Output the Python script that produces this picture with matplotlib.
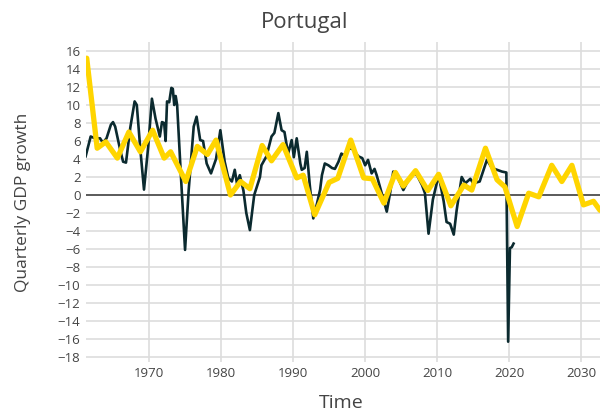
import numpy as np
import matplotlib.pyplot as plt

plt.rcParams['font.family'] = ['Open Sans', 'DejaVu Sans']

# quarterly GDP growth (dark line)
actual_t = [1961.2, 1961.9, 1962.5, 1963.2, 1963.6, 1964.1, 1964.7, 1965.0, 1965.3, 1966.0,
            1966.4, 1966.8, 1967.4, 1968.0, 1968.3, 1968.8, 1969.3, 1969.9, 1970.4, 1970.9,
            1971.5, 1971.8, 1972.1, 1972.3, 1972.5, 1972.8, 1973.1, 1973.3, 1973.5, 1973.7,
            1973.9, 1974.4, 1975.0, 1975.5, 1976.2, 1976.6, 1977.1, 1977.5, 1978.0, 1978.6,
            1979.3, 1979.9, 1980.5, 1981.0, 1981.5, 1981.9, 1982.2, 1982.6, 1983.1, 1983.5,
            1984.0, 1984.6, 1985.0, 1985.4, 1985.6, 1986.3, 1987.0, 1987.4, 1987.95, 1988.4,
            1988.8, 1989.3, 1989.8, 1990.1, 1990.5, 1991.0, 1991.2, 1991.6, 1991.9, 1992.3,
            1992.8, 1993.3, 1993.75, 1994.0, 1994.4, 1994.9, 1995.4, 1995.8, 1996.3, 1996.7,
            1997.1, 1997.7, 1998.3, 1999.05, 1999.6, 2000.0, 2000.4, 2000.9, 2001.3, 2001.6,
            2002.3, 2003.0, 2003.5, 2003.9, 2004.5, 2005.3, 2005.9, 2006.7, 2007.2, 2007.9,
            2008.3, 2008.8, 2009.4, 2010.2, 2010.9, 2011.3, 2011.8, 2012.3, 2012.7, 2013.4,
            2013.9, 2014.6, 2015.0, 2015.9, 2016.9, 2017.6, 2018.3, 2019.0, 2019.6, 2019.85,
            2020.1, 2020.35, 2020.6]
actual_v = [4.3, 6.5, 6.3, 6.3, 5.8, 6.3, 7.8, 8.1, 7.6, 5.0,
            3.7, 3.6, 7.5, 10.4, 10.0, 5.0, 0.6, 5.5, 10.7, 8.5,
            6.5, 8.1, 8.0, 6.0, 10.4, 10.3, 11.9, 11.8, 10.0, 11.0,
            10.0, 2.5, -6.1, 0.5, 7.6, 8.7, 6.1, 6.0, 3.5, 2.4,
            4.0, 7.2, 3.7, 1.9, 1.5, 2.8, 1.3, 2.2, 0.5, -2.0,
            -3.9, 0.0, 1.0, 2.0, 3.3, 4.3, 6.5, 6.9, 9.1, 7.2,
            7.0, 4.6, 6.1, 4.2, 6.3, 3.5, 2.8, 3.0, 4.8, 1.2,
            -2.6, -1.0, 0.6, 2.2, 3.5, 3.3, 3.0, 2.9, 3.7, 4.6,
            4.4, 5.2, 5.1, 4.3, 4.1, 3.3, 3.9, 2.4, 2.9, 2.2,
            0.2, -1.85, 0.4, 2.6, 2.0, 0.55, 1.5, 2.4, 2.2, 1.1,
            0.2, -4.3, -0.5, 2.2, -0.7, -3.0, -3.2, -4.4, -1.7, 2.0,
            1.3, 1.8, 1.3, 1.5, 3.9, 3.0, 2.8, 2.6, 2.5, -16.3,
            -5.9, -5.8, -5.4]

# smoothed / forecast line (yellow)
model_t = [1961.35, 1962.8, 1964.0, 1965.6, 1967.2, 1968.8, 1970.5, 1972.1, 1973.0, 1975.1,
           1976.7, 1978.1, 1979.3, 1981.3, 1982.7, 1984.0, 1985.7, 1987.0, 1988.6, 1990.5,
           1991.4, 1993.0, 1995.0, 1996.2, 1998.0, 1999.8, 2001.0, 2002.6, 2004.2, 2005.3,
           2007.0, 2008.7, 2010.2, 2011.9, 2013.7, 2014.8, 2016.7, 2018.3, 2019.4, 2021.1,
           2022.7, 2024.1, 2025.9, 2027.3, 2028.7, 2030.3, 2031.7, 2032.6]
model_v = [15.2, 5.2, 5.9, 4.1, 7.0, 4.8, 7.2, 4.1, 4.8, 1.5,
           5.4, 4.5, 6.1, 0.0, 1.5, 0.7, 5.5, 3.8, 5.6, 1.9,
           2.2, -2.2, 1.4, 1.85, 6.1, 1.9, 1.8, -0.9, 2.5, 1.0,
           2.7, 0.5, 2.3, -1.2, 1.1, 0.55, 5.2, 1.7, 0.9, -3.5,
           0.2, -0.2, 3.3, 1.5, 3.3, -1.1, -0.7, -1.7]

yticks = list(range(-18, 17, 2))
xticks = [1970, 1980, 1990, 2000, 2010, 2020, 2030]

fig = plt.figure(figsize=(6, 4.17), dpi=100)
ax = fig.add_axes([86/600, 1 - 362.4/417, 514/600, (362.4 - 42)/417])

ax.plot(actual_t, actual_v, color='#0b2a2f', lw=1.9, zorder=3)
ax.plot(model_t, model_v, color='#ffd500', lw=3.8, solid_joinstyle='round',
        solid_capstyle='round', zorder=4)
ax.axhline(0, color='#444444', lw=1.2, zorder=2)

ax.set_xlim(1961.25, 2032.6)
ax.set_ylim(-18.6, 17.0)
ax.set_yticks(yticks)
ax.set_xticks(xticks)
ax.grid(True, color='#dddddd', lw=1.2, zorder=0)
ax.set_axisbelow(True)
for s in ax.spines.values():
    s.set_visible(False)
ax.tick_params(length=0, labelsize=9.5, labelcolor='#444444')
ax.tick_params(axis='x', pad=3)
ax.tick_params(axis='y', pad=4)
ax.set_yticklabels([str(t).replace('-', '\u2212') for t in yticks])

ax.set_ylabel('Quarterly GDP growth', fontsize=12.5, color='#444444')
ax.yaxis.set_label_coords(-0.107, 0.5)
ax.set_xlabel('Time', fontsize=14, color='#444444')
ax.xaxis.set_label_coords(0.497, (362.4 - 394) / 320.4)
fig.text(0.508, 0.945, 'Portugal', ha='center', va='center', fontsize=16, color='#444444')

fig.savefig('out.png', dpi=100)
